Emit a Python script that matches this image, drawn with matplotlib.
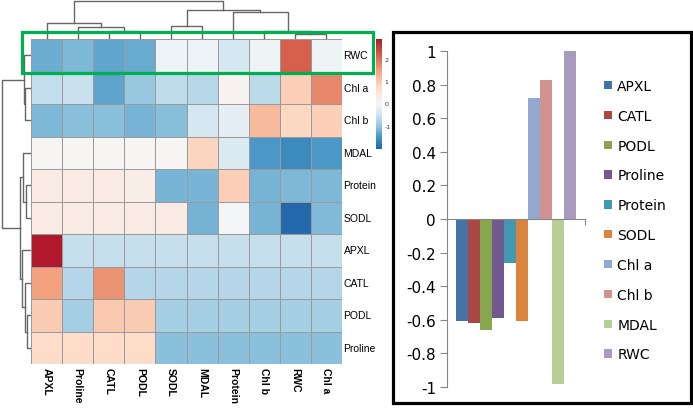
import numpy as np
import matplotlib
matplotlib.use('Agg')
import matplotlib.pyplot as plt
from matplotlib.colors import LinearSegmentedColormap, Normalize
from matplotlib.patches import Rectangle

plt.rcParams['axes.unicode_minus'] = False

# heatmap data (rows x cols, in clustered order)
row_names = ['RWC', 'Chl a', 'Chl b', 'MDAL', 'Protein', 'SODL', 'APXL', 'CATL', 'PODL', 'Proline']
col_names = ['APXL', 'Proline', 'CATL', 'PODL', 'SODL', 'MDAL', 'Protein', 'Chl b', 'RWC', 'Chl a']
heat = np.array([
    [-1.27, -1.15, -1.35, -1.28, -0.15, -0.15, -0.45, -0.12, 2.18, -0.12],
    [-0.62, -0.58, -1.37, -0.98, -0.66, -0.72, 0.10, -0.68, 0.87, 1.74],
    [-1.16, -1.07, -1.08, -1.18, -1.10, -0.45, -0.25, 1.16, 0.78, 0.87],
    [0.05, 0.05, 0.05, 0.05, 0.05, 0.80, -0.35, -1.48, -1.64, -1.48],
    [0.29, 0.29, 0.29, 0.25, -1.18, -1.18, 0.87, -1.18, -1.16, -1.16],
    [0.30, 0.30, 0.30, 0.30, 0.30, -1.20, -0.05, -1.19, -2.00, -1.13],
    [2.90, -0.60, -0.60, -0.60, -0.60, -0.60, -0.60, -0.60, -0.60, -0.60],
    [1.50, -0.75, 1.63, -0.75, -0.75, -0.75, -0.75, -0.75, -0.75, -0.75],
    [0.93, -0.88, 0.97, 0.94, -0.87, -0.87, -0.87, -0.87, -0.87, -0.87],
    [0.68, 0.68, 0.68, 0.68, -1.07, -1.07, -1.07, -1.07, -1.07, -1.07],
])
vmin, vmax = -2.05, 2.9
cbar_ticks = [-1, 0, 1, 2]

# dendrogram merges: (node a, node b, height in px)
col_merges = [(2, 3, 8), (1, 10, 12), (0, 11, 16), (4, 5, 13), (8, 9, 5),
              (7, 14, 8), (6, 15, 27), (13, 16, 29), (12, 17, 38)]
row_merges = [(1, 2, 6), (0, 10, 7), (4, 5, 5), (3, 12, 8), (8, 9, 4),
              (7, 14, 6), (6, 15, 9), (13, 16, 11), (11, 17, 29)]

# bar chart data
bar_names = ['APXL', 'CATL', 'PODL', 'Proline', 'Protein', 'SODL', 'Chl a', 'Chl b', 'MDAL', 'RWC']
bar_vals = [-0.61, -0.62, -0.66, -0.59, -0.26, -0.61, 0.72, 0.83, -0.98, 1.0]
bar_cols = ['#4572A7', '#AA4643', '#89A54E', '#71588F', '#4198AF', '#DB843D',
            '#93A9CF', '#D19392', '#B9CD96', '#A99BBD']
ytick_vals = [1, 0.8, 0.6, 0.4, 0.2, 0, -0.2, -0.4, -0.6, -0.8, -1]
ytick_labels = ['1', '0.8', '0.6', '0.4', '0.2', '0', '-0.2', '-0.4', '-0.6', '-0.8', '-1']

W, H = 693, 410
fig = plt.figure(figsize=(W / 100, H / 100), dpi=100)


def box(l, t, w, h):
    return [l / W, 1 - (t + h) / H, w / W, h / H]


# colormap with white at 0
f0 = -vmin / (vmax - vmin)
cmap = LinearSegmentedColormap.from_list('rb', [
    (0, '#2166AC'), (f0 * 0.25, '#4393C3'), (f0 * 0.5, '#92C5DE'), (f0 * 0.75, '#D1E5F0'),
    (f0, '#F7F7F7'), (f0 + (1 - f0) * 0.25, '#FDDBC7'), (f0 + (1 - f0) * 0.5, '#F4A582'),
    (f0 + (1 - f0) * 0.75, '#D6604D'), (1, '#B2182B')])

lab_font = ['Liberation Sans Narrow', 'Liberation Sans', 'DejaVu Sans']

ax = fig.add_axes(box(31, 40, 311, 325))
mesh = ax.pcolormesh(heat, cmap=cmap, norm=Normalize(vmin, vmax),
                     edgecolors='#9a9a9a', linewidth=0.6)
ax.set_xlim(0, 10)
ax.set_ylim(10, 0)
ax.set_axis_off()
for i, name in enumerate(row_names):
    ax.text(10.05, i + 0.5, name, ha='left', va='center', fontsize=7.5, family=lab_font)
for j, name in enumerate(col_names):
    ax.text(j + 0.5, 10.08, name, ha='center', va='top', rotation=270,
            fontsize=7.5, family=lab_font, fontweight='bold')


def dendro(ax, merges, n, vertical):
    pos = [i + 0.5 for i in range(n)]
    hts = [0] * n
    for a, b, h in merges:
        xs = [pos[a], pos[a], pos[b], pos[b]]
        ys = [hts[a], h, h, hts[b]]
        if vertical:
            ax.plot(xs, ys, color='#666666', lw=1)
        else:
            ax.plot(ys, xs, color='#666666', lw=1)
        pos.append((pos[a] + pos[b]) / 2)
        hts.append(h)


axc = fig.add_axes(box(31, 0, 311, 40))
dendro(axc, col_merges, 10, True)
axc.set_xlim(0, 10)
axc.set_ylim(0, 40)
axc.set_axis_off()

axr = fig.add_axes(box(0, 40, 31, 325))
dendro(axr, row_merges, 10, False)
axr.set_xlim(31, 0)
axr.set_ylim(10, 0)
axr.set_axis_off()

cax = fig.add_axes(box(376, 40, 6, 110))
cb = fig.colorbar(mesh, cax=cax, ticks=cbar_ticks)
cb.outline.set_visible(False)
cax.tick_params(length=0, labelsize=4.5, pad=2, labelcolor='#333333')

# green highlight box
fig.patches.append(Rectangle((22 / W, 1 - 74 / H), 351 / W, 41 / H, transform=fig.transFigure,
                             fill=False, edgecolor='#00B050', lw=2.3))

# bar panel
fig.patches.append(Rectangle((393 / W, 1 - 404 / H), 298 / W, 371 / H, transform=fig.transFigure,
                             fill=False, edgecolor='black', lw=2.3))
axb = fig.add_axes(box(447, 52, 138, 336))
bars = axb.bar(np.arange(len(bar_vals)), bar_vals, width=1.0, color=bar_cols)
axb.set_xlim(-1.25, 10.25)
axb.set_ylim(-1, 1)
axb.set_yticks(ytick_vals)
axb.set_yticklabels(ytick_labels)
axb.set_xticks([-1.25, 10.25])
axb.set_xticklabels(['', ''])
for s in ['top', 'right']:
    axb.spines[s].set_visible(False)
axb.spines['bottom'].set_position(('data', 0))
for s in ['left', 'bottom']:
    axb.spines[s].set_color('#868686')
axb.tick_params(axis='y', direction='out', length=5, color='#868686', labelsize=11, pad=3)
axb.tick_params(axis='x', direction='out', length=4, color='#868686')
axb.legend(bars.patches, bar_names, loc='upper left', bbox_to_anchor=(604 / W, 1 - 80 / H),
           bbox_transform=fig.transFigure, frameon=False, fontsize=10,
           handlelength=0.55, handleheight=0.55, handletextpad=0.4, labelspacing=1.14,
           borderpad=0, borderaxespad=0)

fig.savefig('out.png', dpi=100)
